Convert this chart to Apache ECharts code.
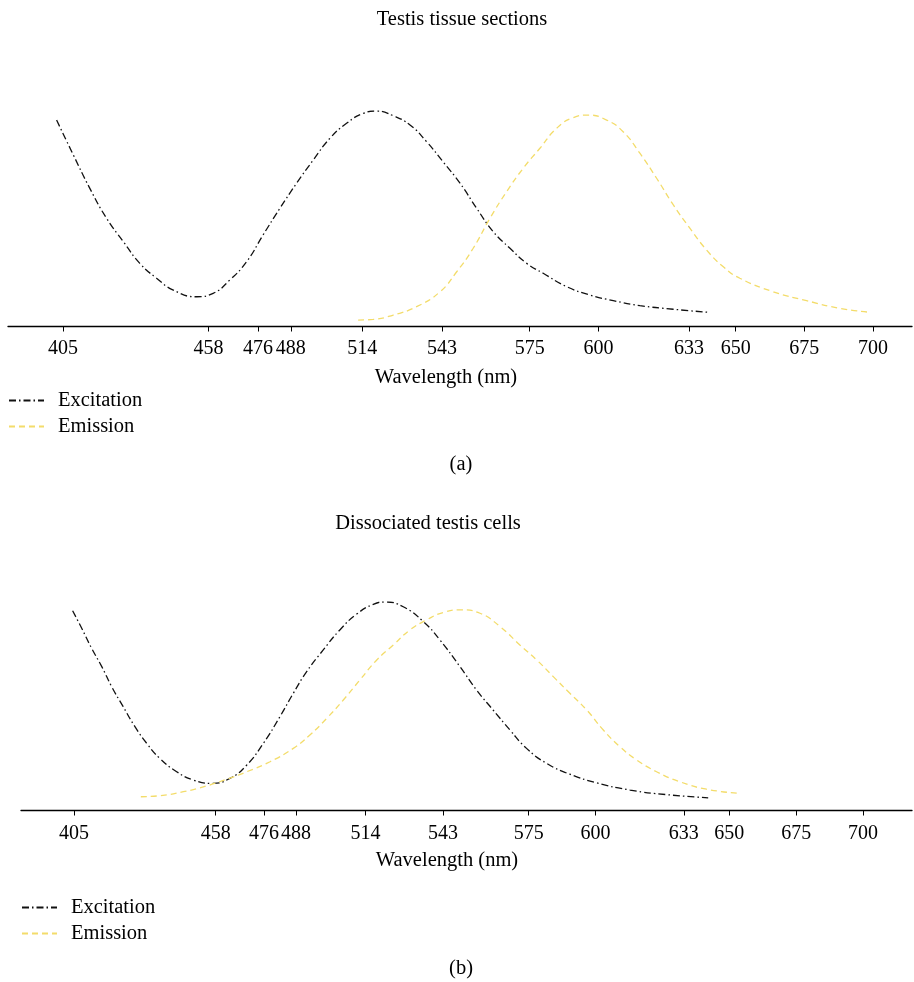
<!DOCTYPE html>
<html lang="en">
<head>
<meta charset="UTF-8">
<title>Excitation / emission spectra</title>
<script src="https://cdn.jsdelivr.net/npm/echarts@6.0.0/dist/echarts.min.js"></script>
<style>
    html, body { margin: 0; padding: 0; background: #fff; }
    #chart { width: 914px; height: 982px; }
</style>
</head>
<body>
<div id="chart"></div>
<script>
// tick labels on the wavelength axis (nm)
const tickWavelengths = [405, 458, 476, 488, 514, 543, 575, 600, 633, 650, 675, 700];

// (a) testis tissue sections: [wavelength nm, relative intensity]
const excitationA = [
    [402.7, 95.8], [408.8, 79.6], [414.8, 64.1], [420.9, 50.2], [427.0, 39.4],
    [433.0, 29.3], [439.1, 22.4], [445.2, 16.9], [453.7, 13.8], [459.7, 15.4],
    [465.8, 21.6], [471.9, 30.1], [477.9, 42.5], [484.0, 54.8], [490.1, 66.5],
    [496.2, 77.3], [502.2, 87.3], [508.3, 94.3], [514.4, 98.9], [519.2, 100],
    [525.3, 97.8], [531.4, 93.5], [537.4, 85.8], [543.5, 76.3], [549.6, 66.5],
    [555.7, 54.8], [561.7, 44.0], [567.8, 36.3], [573.9, 29.3], [579.9, 24.7],
    [588.4, 18.5], [596.9, 14.6], [605.4, 12.0], [615.1, 9.7], [627.3, 8.0],
    [640.0, 6.6]
];
const emissionA = [
    [512.5, 3.0], [518.0, 3.3], [525.3, 5.3], [533.8, 9.2], [542.3, 16.1],
    [548.4, 25.4], [554.4, 36.3], [560.5, 50.2], [566.6, 62.6], [572.6, 73.4],
    [578.7, 82.7], [584.8, 92.0], [590.8, 96.9], [596.3, 98.1], [603.0, 95.8],
    [609.0, 90.4], [615.1, 80.4], [621.2, 68.8], [627.3, 56.4], [633.3, 45.6],
    [639.4, 35.5], [645.5, 27.7], [651.5, 22.4], [663.7, 16.1], [675.8, 12.0],
    [688.0, 8.4], [698.9, 6.6]
];

// (b) dissociated testis cells
const excitationB = [
    [404.5, 95.8], [407.9, 87.4], [411.6, 77.8], [415.4, 69.0], [419.1, 59.4],
    [423.4, 49.8], [427.8, 40.2], [432.2, 32.2], [437.1, 25.0], [443.4, 18.6],
    [449.6, 14.6], [456.5, 13.0], [463.3, 15.4], [469.6, 21.8], [475.8, 32.2],
    [482.0, 45.0], [487.0, 56.2], [492.0, 66.6], [498.2, 77.0], [504.4, 86.6],
    [510.7, 94.2], [516.9, 98.9], [521.3, 100], [528.1, 97.7], [535.6, 90.6],
    [541.8, 81.8], [549.3, 69.0], [555.5, 57.8], [561.7, 48.2], [568.0, 38.6],
    [574.2, 29.8], [581.7, 22.6], [590.4, 17.4], [600.4, 13.3], [612.9, 9.8],
    [626.6, 7.6], [642.1, 6.1]
];
const emissionB = [
    [430.0, 6.6], [437.1, 7.1], [445.9, 9.0], [454.6, 11.8], [462.1, 15.0],
    [469.6, 18.6], [478.3, 23.4], [487.0, 29.8], [493.2, 36.2], [499.5, 44.2],
    [505.7, 53.0], [511.9, 62.6], [518.2, 72.2], [524.4, 79.4], [530.6, 86.6],
    [536.8, 91.4], [543.1, 95.0], [549.9, 96.2], [556.8, 94.6], [564.3, 88.2],
    [571.7, 79.4], [578.0, 72.2], [584.2, 64.2], [590.4, 56.2], [596.7, 48.2],
    [602.9, 38.6], [609.1, 30.6], [615.4, 24.2], [622.8, 18.6], [631.5, 13.8],
    [641.5, 10.2], [654.0, 8.2]
];

const FONT = '"Liberation Serif", "DejaVu Serif", serif';
const EXC_COLOR = '#111111';
const EMI_COLOR = '#f3dc6a';

function label(text, x, y) {
    return {
        type: 'text', x: x, y: y,
        style: { text: text, fontSize: 20.5, fontFamily: FONT, fill: '#000', align: 'center', verticalAlign: 'middle' }
    };
}

function wlAxis(gridIndex, min, max, margin) {
    return {
        type: 'value',
        gridIndex: gridIndex,
        min: min,
        max: max,
        splitLine: { show: false },
        axisLine: { onZero: false, lineStyle: { color: '#000', width: 1.3 } },
        axisTick: { show: true, inside: false, length: 5, customValues: tickWavelengths, lineStyle: { color: '#000', width: 1 } },
        axisLabel: { customValues: tickWavelengths, margin: margin, color: '#000', fontSize: 20, fontFamily: FONT, hideOverlap: false }
    };
}

function intensityAxis(gridIndex) {
    return { type: 'value', gridIndex: gridIndex, min: 0, max: 100, show: false };
}

function curve(name, data, axisIndex, color, dash) {
    return {
        name: name,
        type: 'line',
        xAxisIndex: axisIndex,
        yAxisIndex: axisIndex,
        data: data,
        smooth: true,
        symbol: 'none',
        silent: true,
        lineStyle: { color: color, width: 1.3, type: dash },
        itemStyle: { color: color }
    };
}

function legend(left, top) {
    return {
        orient: 'vertical',
        left: left,
        top: top,
        padding: 0,
        itemWidth: 35,
        itemHeight: 14,
        itemGap: 5,
        selectedMode: false,
        data: ['Excitation', 'Emission'],
        // hide the dot the line legend icon would draw
        itemStyle: { opacity: 0 },
        textStyle: { color: '#000', fontSize: 20.5, fontFamily: FONT, padding: [0, 0, 0, 9] }
    };
}

const chart = echarts.init(document.getElementById('chart'), null, { renderer: 'canvas' });

const option = {
    backgroundColor: '#fff',
    animation: false,
    grid: [
        { left: 8, right: 2, top: 111, height: 215.5 },
        { left: 21, right: 2, top: 602, height: 208.5 }
    ],
    xAxis: [
        wlAxis(0, 385.0, 714.2, 12),
        wlAxis(1, 385.2, 718.3, 13)
    ],
    yAxis: [intensityAxis(0), intensityAxis(1)],
    legend: [legend(8, 390), legend(21, 897)],
    series: [
        curve('Excitation', excitationA, 0, EXC_COLOR, [7, 3, 1.5, 3]),
        curve('Emission', emissionA, 0, EMI_COLOR, [6, 4]),
        curve('Excitation', excitationB, 1, EXC_COLOR, [7, 3, 1.5, 3]),
        curve('Emission', emissionB, 1, EMI_COLOR, [6, 4])
    ],
    graphic: [
        label('Testis tissue sections', 462, 20),
        label('Wavelength (nm)', 446, 378),
        label('(a)', 461, 465),
        label('Dissociated testis cells', 428, 524),
        label('Wavelength (nm)', 447, 861),
        label('(b)', 461, 969)
    ]
};

chart.setOption(option);
</script>
</body>
</html>
